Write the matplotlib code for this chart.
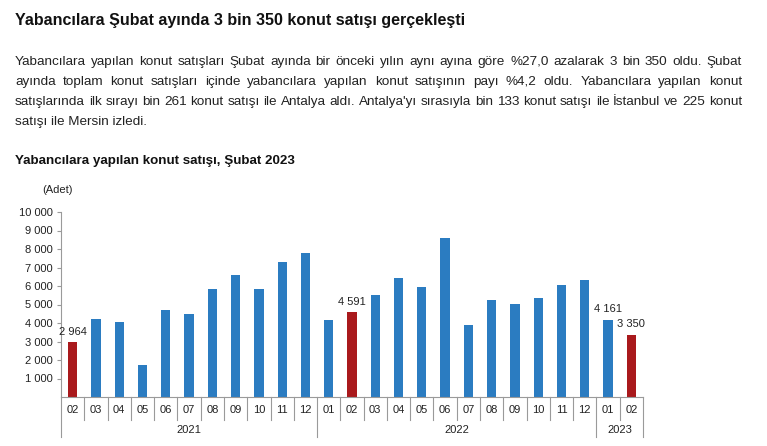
import matplotlib
matplotlib.use("Agg")
from matplotlib import pyplot as plt
from matplotlib import transforms

plt.rcParams['font.family'] = ['Liberation Sans', 'DejaVu Sans']

#   Data
months = ['02', '03', '04', '05', '06', '07', '08', '09', '10', '11', '12',
          '01', '02', '03', '04', '05', '06', '07', '08', '09', '10', '11', '12',
          '01', '02']
sales = [2964, 4230, 4070, 1750, 4720, 4470, 5860, 6610, 5860, 7320, 7800,
         4180, 4591, 5530, 6410, 5930, 8610, 3910, 5260, 5050, 5370, 6070, 6340,
         4161, 3350]
years = ['2021', '2022', '2023']
year_counts = [11, 12, 2]
labelled = [0, 12, 23, 24]

title = "Yabancılara Şubat ayında 3 bin 350 konut satışı gerçekleşti"
para = [
    "Yabancılara yapılan konut satışları Şubat ayında bir önceki yılın aynı ayına göre %27,0 azalarak 3 bin 350 oldu. Şubat",
    "ayında toplam konut satışları içinde yabancılara yapılan konut satışının payı %4,2 oldu. Yabancılara yapılan konut",
    "satışlarında ilk sırayı bin 261 konut satışı ile Antalya aldı. Antalya'yı sırasıyla bin 133 konut satışı ile İstanbul ve 225 konut",
    "satışı ile Mersin izledi.",
]
chart_title = "Yabancılara yapılan konut satışı, Şubat 2023"

BLUE = '#2b7cc1'
RED = '#a9191c'
GREY = '#9a9a9a'

W, H = 767, 446
fig = plt.figure(figsize=(W / 100, H / 100), dpi=100)
fig.patch.set_facecolor('white')

def px(x, y):
    return x / W, 1 - y / H

#   Headline and paragraph
fig.text(*px(15, 20), title, fontsize=11.5, fontweight='bold', va='center', ha='left', color='#111111')

renderer = fig.canvas.get_renderer()
left, right = 15, 742
for i, line in enumerate(para):
    y = 62 + i * 20
    words = line.split(' ')
    if i == len(para) - 1:
        fig.text(*px(left, y), line, fontsize=9.7, va='center', ha='left', color='#222222')
        continue
    texts = [fig.text(*px(left, y), w, fontsize=9.7, va='center', ha='left', color='#222222') for w in words]
    widths = [t.get_window_extent(renderer).width for t in texts]
    gap = (right - left - sum(widths)) / (len(words) - 1)
    x = left
    for t, w in zip(texts, widths):
        t.set_position(px(x, y))
        x += w + gap

fig.text(*px(15, 161), chart_title, fontsize=9.6, fontweight='bold', va='center', ha='left', color='#111111')
fig.text(*px(42, 190), "(Adet)", fontsize=8, va='center', ha='left', color='#222222')

#   Chart
x0, x1, ytop, ybot = 61, 643, 212, 397
ax = fig.add_axes([x0 / W, (H - ybot) / H, (x1 - x0) / W, (ybot - ytop) / H])
n = len(sales)
xs = list(range(n))
colors = [RED if m == '02' else BLUE for m in months]
ax.bar(xs, sales, width=0.4, color=colors)
ax.set_xlim(-0.5, n - 0.5)
ax.set_ylim(0, 10000)

for i in labelled:
    ax.annotate(f"{sales[i]:,}".replace(',', ' '), (xs[i], sales[i]), xytext=(0, 4),
                textcoords='offset points', ha='center', va='bottom', fontsize=8, color='#222222')

yt = list(range(1000, 10001, 1000))
ax.set_yticks(yt, [f"{v:,}".replace(',', ' ') for v in yt])
ax.tick_params(axis='y', length=3, color=GREY, labelsize=8, labelcolor='#222222', pad=3)
ax.set_xticks(xs, months)
ax.tick_params(axis='x', length=0, labelsize=8, labelcolor='#222222', pad=6)

for s in ['top', 'right']:
    ax.spines[s].set_visible(False)
for s in ['left', 'bottom']:
    ax.spines[s].set_color(GREY)
    ax.spines[s].set_linewidth(0.8)

#   Category separators below the axis
trans = transforms.blended_transform_factory(ax.transData, ax.transAxes)
ah = ybot - ytop
month_drop = -23 / ah
year_drop = -40 / ah
year_edges = [-0.5]
for c in year_counts:
    year_edges.append(year_edges[-1] + c)
for k in range(1, n):
    if k - 0.5 not in year_edges:
        ax.plot([k - 0.5, k - 0.5], [0, month_drop], color=GREY, lw=0.8, transform=trans, clip_on=False)
for e in year_edges:
    ax.plot([e, e], [0, year_drop], color=GREY, lw=0.8, transform=trans, clip_on=False)
for yr, a, b in zip(years, year_edges[:-1], year_edges[1:]):
    ax.text((a + b) / 2, -33 / ah, yr, transform=trans, ha='center', va='center', fontsize=8, color='#222222')

fig.savefig('out.png', dpi=100)
